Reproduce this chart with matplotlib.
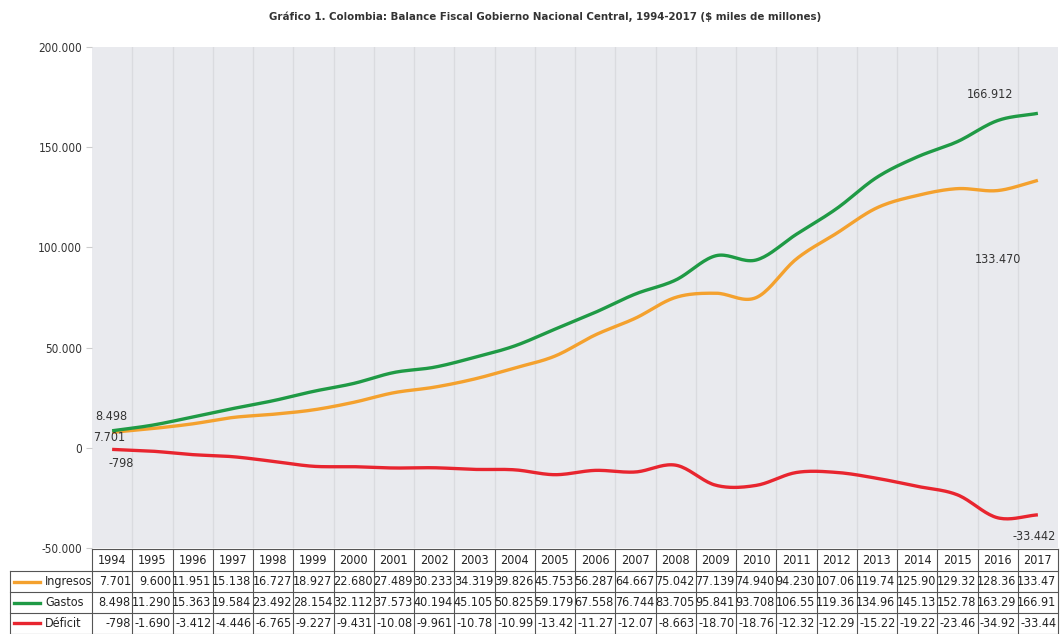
import numpy as np
import matplotlib
matplotlib.use("Agg")
import matplotlib.pyplot as plt
from matplotlib.lines import Line2D

plt.rcParams["font.family"] = ["DejaVu Sans"]
plt.rcParams["font.stretch"] = "condensed"

YEARS = [str(y) for y in range(1994, 2018)]
INGRESOS = [7701, 9600, 11951, 15138, 16727, 18927, 22680, 27489, 30233, 34319,
            39826, 45753, 56287, 64667, 75042, 77139, 74940, 94230, 107060, 119740,
            125900, 129320, 128360, 133470]
GASTOS = [8498, 11290, 15363, 19584, 23492, 28154, 32112, 37573, 40194, 45105,
          50825, 59179, 67558, 76744, 83705, 95841, 93708, 106550, 119360, 134960,
          145130, 152780, 163290, 166912]
DEFICIT = [-798, -1690, -3412, -4446, -6765, -9227, -9431, -10080, -9961, -10780,
           -10990, -13420, -11270, -12070, -8663, -18700, -18760, -12320, -12290, -15220,
           -19220, -23460, -34920, -33442]
SERIES = [("Ingresos", INGRESOS, "#f4a12e"),
          ("Gastos", GASTOS, "#1f9a45"),
          ("Déficit", DEFICIT, "#e8252f")]
Y_TICKS = [-50000, 0, 50000, 100000, 150000, 200000]

TITLE = "Gráfico 1. Colombia: Balance Fiscal Gobierno Nacional Central, 1994-2017 ($ miles de millones)"


def fmt_thousands(v):
    return f"{v:,.0f}".replace(",", ".")


def cell_text(v):
    # the table cells cut long numbers to six characters
    return fmt_thousands(v)[:6]


def smooth(x, y, n=20):
    """Catmull-Rom curve through the points (like Excel's smoothed line)."""
    x = np.asarray(x, float)
    y = np.asarray(y, float)
    px = np.concatenate([[2 * x[0] - x[1]], x, [2 * x[-1] - x[-2]]])
    py = np.concatenate([[2 * y[0] - y[1]], y, [2 * y[-1] - y[-2]]])
    xs, ys = [], []
    t = np.linspace(0, 1, n, endpoint=False)
    for i in range(1, len(px) - 2):
        for p, out in ((px, xs), (py, ys)):
            p0, p1, p2, p3 = p[i - 1], p[i], p[i + 1], p[i + 2]
            out.extend(0.5 * (2 * p1 + (-p0 + p2) * t
                              + (2 * p0 - 5 * p1 + 4 * p2 - p3) * t ** 2
                              + (-p0 + 3 * p1 - 3 * p2 + p3) * t ** 3))
    xs.append(x[-1])
    ys.append(y[-1])
    return np.array(xs), np.array(ys)


fig = plt.figure(figsize=(10.6, 6.34), dpi=100)
ax = fig.add_axes([92 / 1060, 1 - 548 / 634, 966 / 1060, 501 / 634])
ax.set_facecolor("#e9eaee")

n = len(YEARS)
xpos = np.arange(n)
for name, vals, color in SERIES:
    sx, sy = smooth(xpos, vals)
    ax.plot(sx, sy, color=color, lw=2.4, solid_capstyle="butt")

ax.set_xlim(-0.5, n - 0.5)
ax.set_ylim(-50000, 200000)
ax.set_yticks(Y_TICKS)
ax.set_yticklabels([fmt_thousands(v) for v in Y_TICKS], fontsize=8.5, color="#333333")
ax.tick_params(axis="y", length=4, color="#cccccc", pad=3)
ax.set_xticks([])
for k in range(1, n):
    ax.axvline(k - 0.5, color="#dadbdf", lw=1.0, zorder=0)
for s in ax.spines.values():
    s.set_visible(False)

# value annotations
ann = dict(fontsize=9, color="#333333")
ax.text(-0.42, GASTOS[0] + 4000, fmt_thousands(GASTOS[0]), ha="left", va="bottom", **ann)
ax.text(-0.48, INGRESOS[0] - 2500, fmt_thousands(INGRESOS[0]), ha="left", va="center", **ann)
ax.text(-0.1, DEFICIT[0] - 7000, fmt_thousands(DEFICIT[0]), ha="left", va="center", **ann)
ax.text(21.8, GASTOS[-1] + 6000, fmt_thousands(GASTOS[-1]), ha="center", va="bottom", **ann)
ax.text(22.0, 94000, fmt_thousands(INGRESOS[-1]), ha="center", va="center", **ann)
ax.text(22.9, -44500, fmt_thousands(DEFICIT[-1]), ha="center", va="center", **ann)

fig.text(545 / 1060, 1 - 17 / 634, TITLE, ha="center", va="center",
         fontsize=8.2, fontweight="bold", color="#333333")

# data table below the plot
tab = fig.add_axes([0, 0, 1, 1], facecolor="none")
tab.set_xlim(0, 1060)
tab.set_ylim(634, 0)
tab.axis("off")
col0, colw = 92, 966 / n
rows_y = [549, 571, 592, 613, 633.5]
lk = dict(color="#555555", lw=0.8)
tab.plot([col0, col0 + n * colw], [rows_y[0]] * 2, **lk)
for r in range(1, 5):
    tab.plot([10, col0 + n * colw], [rows_y[r]] * 2, **lk)
for k in range(n + 1):
    x = col0 + k * colw
    tab.plot([x, x], [rows_y[0], rows_y[4]], **lk)
tab.plot([10, 10], [rows_y[1], rows_y[4]], **lk)
for k, yr in enumerate(YEARS):
    tab.text(col0 + (k + 0.5) * colw, (rows_y[0] + rows_y[1]) / 2, yr,
             ha="center", va="center", fontsize=9, color="#222222")
for r, (name, vals, color) in enumerate(SERIES):
    yc = (rows_y[r + 1] + rows_y[r + 2]) / 2
    tab.add_line(Line2D([14, 40], [yc, yc], color=color, lw=2.4))
    tab.text(45, yc, name, ha="left", va="center", fontsize=9, color="#222222")
    for k, v in enumerate(vals):
        tab.text(col0 + (k + 1) * colw - 1.5, yc, cell_text(v),
                 ha="right", va="center", fontsize=9, color="#222222")

fig.savefig("out.png", dpi=100)
